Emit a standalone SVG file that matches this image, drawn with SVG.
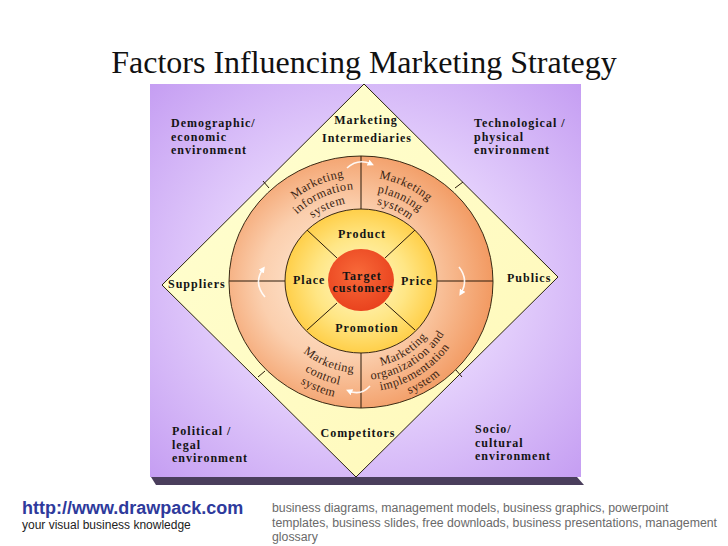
<svg xmlns="http://www.w3.org/2000/svg" width="728" height="546" viewBox="0 0 728 546">
  <defs>
    <radialGradient id="gPanel" cx="50%" cy="50%" r="72%">
      <stop offset="0" stop-color="#F5ECFF"/>
      <stop offset="0.45" stop-color="#E4D0FC"/>
      <stop offset="1" stop-color="#C49CF2"/>
    </radialGradient>
    <linearGradient id="gDiamond" x1="0" y1="0" x2="1" y2="1">
      <stop offset="0" stop-color="#FFFFD2"/>
      <stop offset="1" stop-color="#FFF8B8"/>
    </linearGradient>
    <radialGradient id="gRing" cx="45%" cy="50%" r="55%" fx="38%" fy="50%">
      <stop offset="0" stop-color="#FFEBD8"/>
      <stop offset="0.55" stop-color="#FBCFAE"/>
      <stop offset="1" stop-color="#F29A62"/>
    </radialGradient>
    <radialGradient id="gYellow" cx="50%" cy="50%" r="55%">
      <stop offset="0" stop-color="#FFF8C8"/>
      <stop offset="0.55" stop-color="#FFE685"/>
      <stop offset="1" stop-color="#FFC93A"/>
    </radialGradient>
    <radialGradient id="gRed" cx="45%" cy="40%" r="65%">
      <stop offset="0" stop-color="#F86A3A"/>
      <stop offset="1" stop-color="#E8401C"/>
    </radialGradient>
    <marker id="ah" viewBox="0 0 10 10" refX="5" refY="5" markerWidth="4" markerHeight="4" orient="auto">
      <path d="M0,0 L10,5 L0,10 z" fill="#FFFFFF"/>
    </marker>
    <path id="pUL1" d="M262.0,244.0 A106,106 0 0 1 399.0,183.0"/>
    <path id="pUL2" d="M274.2,248.7 A93,93 0 0 1 394.3,195.2"/>
    <path id="pUL3" d="M286.3,253.3 A80,80 0 0 1 389.7,207.3"/>
    <path id="pUR1" d="M325.1,183.3 A105,105 0 0 1 459.7,246.1"/>
    <path id="pUR2" d="M329.9,196.5 A91,91 0 0 1 446.5,250.9"/>
    <path id="pUR3" d="M334.0,207.8 A79,79 0 0 1 435.2,255.0"/>
    <path id="pBL1" d="M277.2,317.6 A91,91 0 0 0 396.6,365.8"/>
    <path id="pBL2" d="M264.4,323.0 A105,105 0 0 0 402.0,378.7"/>
    <path id="pBL3" d="M252.4,328.1 A118,118 0 0 0 407.1,390.6"/>
    <path id="pBR1" d="M341.7,365.8 A86,86 0 0 0 444.8,301.4"/>
    <path id="pBR2" d="M339.0,377.5 A98,98 0 0 0 456.5,304.1"/>
    <path id="pBR3" d="M336.3,389.2 A110,110 0 0 0 468.2,306.8"/>
    <path id="pBR4" d="M333.6,400.9 A122,122 0 0 0 479.9,309.5"/>
  </defs>
  <style>
    .title { font-family: "Liberation Serif", "Times New Roman", serif; font-size: 32px; fill: #111; }
    .lbl { font-family: "Liberation Serif", "Times New Roman", serif; font-size: 12px; font-weight: bold; letter-spacing: 1px; fill: #141414; }
    .ring { font-family: "Liberation Serif", "Times New Roman", serif; font-size: 12.2px; letter-spacing: 0.5px; fill: #3A2412; }
    .edge { stroke: #3A2A14; stroke-width: 1; }
    .div { stroke: #2A1A0A; stroke-width: 1; fill: none; }
    .arr { stroke: #FFFFFF; stroke-width: 1.6; fill: none; stroke-opacity: 0.9; marker-end: url(#ah); }
    .url { font-family: "Liberation Sans", Arial, sans-serif; font-size: 18px; font-weight: bold; fill: #2E3A9C; }
    .tag { font-family: "Liberation Sans", Arial, sans-serif; font-size: 12px; fill: #222; }
    .kw { font-family: "Liberation Sans", Arial, sans-serif; font-size: 12.3px; fill: #6A6A6A; }
  </style>

  <rect width="728" height="546" fill="#FFFFFF"/>
  <text class="title" x="364" y="73" text-anchor="middle">Factors Influencing Marketing Strategy</text>

  <g id="panel">
    <rect x="150" y="84" width="431" height="393" fill="url(#gPanel)"/>
    <polygon points="151,477 577,477 584,485 156,485" fill="#4A3E5C"/>
  </g>

  <g id="diamond">
    <polygon points="364,84 558,277 356,477 162,285" fill="url(#gDiamond)" stroke="#2A2410" stroke-width="1"/>
    <line class="div" x1="263" y1="181" x2="269" y2="188"/>
    <line class="div" x1="455" y1="188" x2="463" y2="182"/>
    <line class="div" x1="258" y1="377" x2="265" y2="371"/>
    <line class="div" x1="456" y1="370" x2="462" y2="377"/>
  </g>

  <g id="ring">
    <ellipse cx="361" cy="282" rx="132" ry="126" fill="url(#gRing)" class="edge"/>
  </g>
  <g id="mix">
    <ellipse cx="361" cy="281" rx="76" ry="72" fill="url(#gYellow)" class="edge"/>
  </g>
  <g id="target">
    <ellipse cx="361" cy="280" rx="33" ry="31" fill="url(#gRed)"/>
  </g>

  <g id="connectors">
    <line class="div" x1="361" y1="156" x2="361" y2="209"/>
    <line class="div" x1="361" y1="353" x2="361" y2="408"/>
    <line class="div" x1="229" y1="281" x2="285" y2="281"/>
    <line class="div" x1="437" y1="281" x2="493" y2="281"/>
    <line class="div" x1="307" y1="230" x2="337" y2="258"/>
    <line class="div" x1="415" y1="230" x2="385" y2="258"/>
    <line class="div" x1="307" y1="330" x2="337" y2="303"/>
    <line class="div" x1="415" y1="330" x2="385" y2="303"/>
    <path class="arr" d="M347,168 Q358,158 371,164"/>
    <path class="arr" d="M459,267 Q469,280 461,293"/>
    <path class="arr" d="M370,386 Q361,396 349,391"/>
    <path class="arr" d="M265,297 Q253,283 263,269"/>
  </g>

  <g id="corner-demographic">
    <text class="lbl" x="171" y="127">Demographic/</text>
    <text class="lbl" x="171" y="140.5">economic</text>
    <text class="lbl" x="171" y="154">environment</text>
  </g>
  <g id="corner-technological">
    <text class="lbl" x="474" y="127">Technological /</text>
    <text class="lbl" x="474" y="140.5">physical</text>
    <text class="lbl" x="474" y="154">environment</text>
  </g>
  <g id="corner-political">
    <text class="lbl" x="172" y="435">Political /</text>
    <text class="lbl" x="172" y="448.5">legal</text>
    <text class="lbl" x="172" y="462">environment</text>
  </g>
  <g id="corner-socio">
    <text class="lbl" x="475" y="433">Socio/</text>
    <text class="lbl" x="475" y="446.5">cultural</text>
    <text class="lbl" x="475" y="460">environment</text>
  </g>

  <g id="intermediaries">
    <text class="lbl" x="366" y="124" text-anchor="middle">Marketing</text>
    <text class="lbl" x="367" y="142" text-anchor="middle">Intermediaries</text>
  </g>
  <g id="suppliers"><text class="lbl" x="168" y="288">Suppliers</text></g>
  <g id="publics"><text class="lbl" x="507" y="282">Publics</text></g>
  <g id="competitors"><text class="lbl" x="358" y="437" text-anchor="middle">Competitors</text></g>

  <g id="product"><text class="lbl" x="362" y="238" text-anchor="middle">Product</text></g>
  <g id="place"><text class="lbl" x="293" y="284">Place</text></g>
  <g id="price"><text class="lbl" x="401" y="285">Price</text></g>
  <g id="promotion"><text class="lbl" x="367" y="332" text-anchor="middle">Promotion</text></g>
  <g id="target-label">
    <text class="lbl" x="362" y="280" text-anchor="middle">Target</text>
    <text class="lbl" x="363" y="292" text-anchor="middle">customers</text>
  </g>

  <g id="info-system">
    <text class="ring"><textPath href="#pUL1" startOffset="50%" text-anchor="middle">Marketing</textPath></text>
    <text class="ring"><textPath href="#pUL2" startOffset="50%" text-anchor="middle">information</textPath></text>
    <text class="ring"><textPath href="#pUL3" startOffset="50%" text-anchor="middle">system</textPath></text>
  </g>
  <g id="planning-system">
    <text class="ring"><textPath href="#pUR1" startOffset="50%" text-anchor="middle">Marketing</textPath></text>
    <text class="ring"><textPath href="#pUR2" startOffset="50%" text-anchor="middle">planning</textPath></text>
    <text class="ring"><textPath href="#pUR3" startOffset="50%" text-anchor="middle">system</textPath></text>
  </g>
  <g id="control-system">
    <text class="ring"><textPath href="#pBL1" startOffset="50%" text-anchor="middle">Marketing</textPath></text>
    <text class="ring"><textPath href="#pBL2" startOffset="50%" text-anchor="middle">control</textPath></text>
    <text class="ring"><textPath href="#pBL3" startOffset="50%" text-anchor="middle">system</textPath></text>
  </g>
  <g id="implementation-system">
    <text class="ring"><textPath href="#pBR1" startOffset="50%" text-anchor="middle">Marketing</textPath></text>
    <text class="ring"><textPath href="#pBR2" startOffset="50%" text-anchor="middle">organization and</textPath></text>
    <text class="ring"><textPath href="#pBR3" startOffset="50%" text-anchor="middle">implementation</textPath></text>
    <text class="ring"><textPath href="#pBR4" startOffset="50%" text-anchor="middle">system</textPath></text>
  </g>

  <g id="footer">
    <text class="url" x="22" y="514">http://www.drawpack.com</text>
    <text class="tag" x="22" y="529">your visual business knowledge</text>
    <text class="kw" x="272" y="512">business diagrams, management models, business graphics, powerpoint</text>
    <text class="kw" x="272" y="527">templates, business slides, free downloads, business presentations, management</text>
    <text class="kw" x="272" y="541">glossary</text>
  </g>
</svg>
